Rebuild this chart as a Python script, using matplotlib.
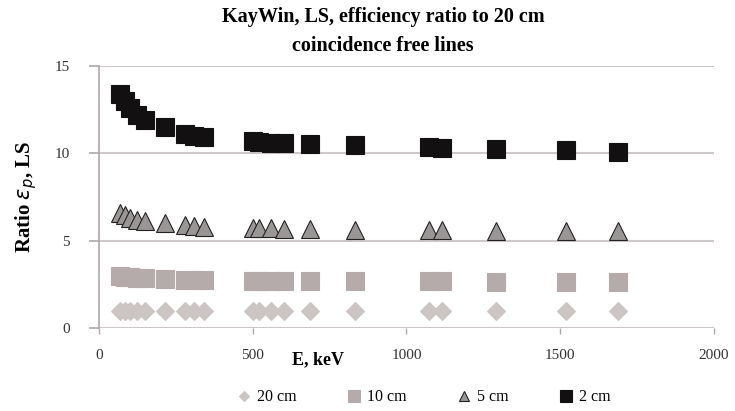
import matplotlib
matplotlib.use("Agg")
import matplotlib.pyplot as plt

# gamma line energies (keV), shared by every detector distance
energy = [68, 85, 101, 124, 150, 215, 279, 310, 340, 501, 520, 559, 602,
          686, 833, 1073, 1115, 1291, 1519, 1688]

ratio_20cm = [1.0] * len(energy)
ratio_10cm = [2.95, 2.92, 2.9, 2.87, 2.84, 2.8, 2.77, 2.76, 2.75, 2.72, 2.72,
              2.71, 2.7, 2.69, 2.68, 2.67, 2.67, 2.66, 2.66, 2.65]
ratio_5cm = [6.6, 6.45, 6.3, 6.2, 6.1, 6.0, 5.9, 5.85, 5.8, 5.75, 5.72, 5.7,
             5.68, 5.65, 5.62, 5.6, 5.6, 5.58, 5.56, 5.55]
ratio_2cm = [13.4, 13.0, 12.6, 12.2, 11.9, 11.5, 11.1, 11.0, 10.95, 10.7, 10.65,
             10.6, 10.6, 10.55, 10.45, 10.34, 10.32, 10.25, 10.17, 10.1]

series = [
    ("20 cm", ratio_20cm, "D", 9.0, "#cdc5c3", "#cdc5c3"),
    ("10 cm", ratio_10cm, "s", 13.5, "#b5abaa", "#b5abaa"),
    ("5 cm", ratio_5cm, "^", 13.0, "#9a9696", "#222222"),
    ("2 cm", ratio_2cm, "s", 13.3, "#121010", "#121010"),
]

serif = ["Liberation Serif", "DejaVu Serif"]
plt.rcParams["font.family"] = serif

fig = plt.figure(figsize=(7.35, 4.11), dpi=100)
ax = fig.add_axes([0.1347, 0.2019, 0.8367, 0.6375])

for label, vals, marker, ms, face, edge in series:
    ax.plot(energy, vals, linestyle="none", marker=marker, markersize=ms,
            markerfacecolor=face, markeredgecolor=edge, markeredgewidth=0.8,
            label=label, zorder=3)

ax.set_xlim(0, 2000)
ax.set_ylim(0, 15)
ax.set_xticks([0, 500, 1000, 1500, 2000])
ax.set_yticks([0, 5, 10, 15])
ax.yaxis.grid(True, color="#cfc8c8", linewidth=1.5, zorder=0)
ax.set_axisbelow(True)
for side in ("top", "right", "bottom"):
    ax.spines[side].set_visible(False)
ax.spines["left"].set_color("#b0a8a8")
ax.spines["left"].set_linewidth(1.2)
ax.tick_params(axis="y", length=7, width=1.2, color="#b0a8a8",
               labelsize=11, labelcolor="#333333", pad=14)
ax.tick_params(axis="x", length=4, width=1.0, color="#b0a8a8",
               labelsize=11, labelcolor="#333333", pad=11)

fig.text(0.521, 0.958, "KayWin, LS, efficiency ratio to 20 cm",
         ha="center", va="center", fontsize=14.5, fontweight="bold")
fig.text(0.521, 0.888, "coincidence free lines",
         ha="center", va="center", fontsize=14.5, fontweight="bold")
fig.text(0.035, 0.52, r"Ratio $\varepsilon_p$, LS", rotation=90,
         ha="center", va="center", fontsize=15, fontweight="bold")
fig.text(0.433, 0.125, "E, keV", ha="center", va="center",
         fontsize=13, fontweight="bold")

fig.legend(loc="center", bbox_to_anchor=(0.575, 0.033), ncol=4, frameon=False,
           markerscale=0.6, fontsize=11.5, handletextpad=0.2, columnspacing=3.0,
           handlelength=1.2)

fig.savefig("out.png", dpi=100)
